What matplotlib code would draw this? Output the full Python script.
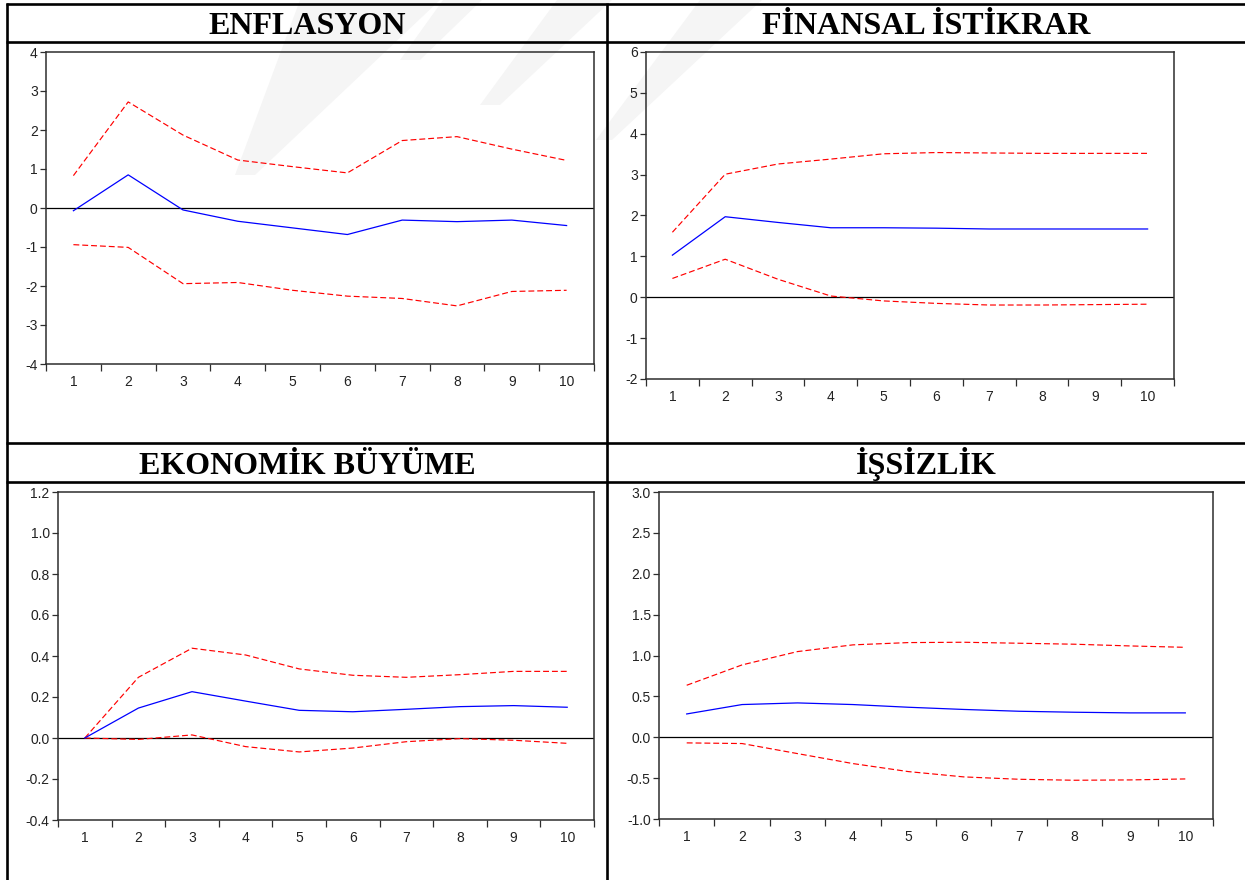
import matplotlib
matplotlib.use("Agg")
import matplotlib.pyplot as plt
from matplotlib.lines import Line2D
from matplotlib.patches import Polygon

# ---- data: impulse responses with confidence bands, periods 1..10 ----
periods = list(range(1, 11))

enf_resp = [-0.07, 0.85, -0.05, -0.34, -0.51, -0.68, -0.31, -0.35, -0.31, -0.45]
enf_upper = [0.83, 2.72, 1.87, 1.23, 1.06, 0.90, 1.73, 1.83, 1.51, 1.22]
enf_lower = [-0.94, -1.01, -1.94, -1.91, -2.11, -2.26, -2.32, -2.51, -2.14, -2.11]

fin_resp = [1.03, 1.97, 1.83, 1.70, 1.70, 1.69, 1.67, 1.67, 1.67, 1.67]
fin_upper = [1.59, 3.01, 3.26, 3.38, 3.51, 3.54, 3.53, 3.52, 3.52, 3.52]
fin_lower = [0.46, 0.93, 0.44, 0.03, -0.09, -0.15, -0.19, -0.19, -0.18, -0.17]

eko_resp = [0.0, 0.146, 0.226, 0.18, 0.135, 0.128, 0.14, 0.153, 0.158, 0.15]
eko_upper = [0.0, 0.296, 0.438, 0.405, 0.337, 0.306, 0.296, 0.309, 0.325, 0.325]
eko_lower = [0.0, -0.007, 0.015, -0.042, -0.068, -0.049, -0.018, -0.003, -0.011, -0.026]

iss_resp = [0.285, 0.40, 0.42, 0.40, 0.367, 0.34, 0.318, 0.306, 0.298, 0.298]
iss_upper = [0.636, 0.885, 1.048, 1.13, 1.158, 1.162, 1.15, 1.138, 1.117, 1.10]
iss_lower = [-0.069, -0.077, -0.2, -0.322, -0.42, -0.485, -0.514, -0.526, -0.522, -0.51]

titles = ["ENFLASYON", "FİNANSAL İSTİKRAR", "EKONOMİK BÜYÜME", "İŞSİZLİK"]

enf_yticks = [-4, -3, -2, -1, 0, 1, 2, 3, 4]
enf_ylabels = ["-4", "-3", "-2", "-1", "0", "1", "2", "3", "4"]
fin_yticks = [-2, -1, 0, 1, 2, 3, 4, 5, 6]
fin_ylabels = ["-2", "-1", "0", "1", "2", "3", "4", "5", "6"]
eko_yticks = [-0.4, -0.2, 0.0, 0.2, 0.4, 0.6, 0.8, 1.0, 1.2]
eko_ylabels = ["-0.4", "-0.2", "0.0", "0.2", "0.4", "0.6", "0.8", "1.0", "1.2"]
iss_yticks = [-1.0, -0.5, 0.0, 0.5, 1.0, 1.5, 2.0, 2.5, 3.0]
iss_ylabels = ["-1.0", "-0.5", "0.0", "0.5", "1.0", "1.5", "2.0", "2.5", "3.0"]
xlabels = [str(p) for p in periods]

# ---- figure setup ----
W, H = 1245, 880
fig = plt.figure(figsize=(W / 100, H / 100), dpi=100)
fig.patch.set_facecolor("white")


def fx(x):
    return x / W


def fy(y):
    return 1 - y / H


def px_box(x0, y0, x1, y1):
    return [fx(x0), fy(y1), (x1 - x0) / W, (y1 - y0) / H]


# faint diagonal watermark stripes behind everything
stripes = [
    [(300, 0), (440, 0), (255, 175), (235, 175)],
    [(443, 0), (482, 0), (420, 60), (400, 60)],
    [(557, 0), (612, 0), (500, 105), (480, 105)],
    [(700, 0), (762, 0), (612, 140), (596, 140)],
]
for pts in stripes:
    fig.patches.append(Polygon([(fx(a), fy(b)) for a, b in pts], closed=True,
                               transform=fig.transFigure, facecolor="#f5f5f5",
                               edgecolor="none", zorder=-10))

# table grid lines
grid_lw = 1.9
table_lines = [
    ((6, 4), (W, 4)),
    ((6, 42), (W, 42)),
    ((6, 443), (W, 443)),
    ((6, 482), (W, 482)),
    ((7, 3), (7, H)),
    ((607, 3), (607, H)),
]
for (x0, y0), (x1, y1) in table_lines:
    fig.add_artist(Line2D([fx(x0), fx(x1)], [fy(y0), fy(y1)], transform=fig.transFigure,
                          color="black", lw=grid_lw, solid_capstyle="butt"))

# titles
title_pos = [(307, 34), (926, 34), (307, 474), (926, 474)]
for t, (x, y) in zip(titles, title_pos):
    fig.text(fx(x), fy(y), t, ha="center", va="baseline", fontsize=23,
             fontweight="bold", family="Liberation Serif", color="black")

panels = [
    (px_box(46, 52, 594, 364), enf_resp, enf_upper, enf_lower, enf_yticks, enf_ylabels),
    (px_box(646, 52, 1174, 379), fin_resp, fin_upper, fin_lower, fin_yticks, fin_ylabels),
    (px_box(58, 492, 594, 820), eko_resp, eko_upper, eko_lower, eko_yticks, eko_ylabels),
    (px_box(659, 492, 1213, 819), iss_resp, iss_upper, iss_lower, iss_yticks, iss_ylabels),
]

frame_col = "#2e2e2e"
for box, resp, up, lo, yt, yl in panels:
    ax = fig.add_axes(box)
    ax.patch.set_alpha(0)
    ax.plot(periods, up, color="#ff0000", lw=0.85, linestyle=(0, (5, 2.5)))
    ax.plot(periods, lo, color="#ff0000", lw=0.85, linestyle=(0, (5, 2.5)))
    ax.plot(periods, resp, color="#0000ff", lw=0.9)
    ax.axhline(0, color="black", lw=0.9, zorder=1)
    ax.set_xlim(0.5, 10.5)
    ax.set_ylim(yt[0], yt[-1])
    ax.set_yticks(yt)
    ax.set_yticklabels(yl)
    ax.set_xticks(periods)
    ax.set_xticklabels(xlabels)
    ax.set_xticks([p + 0.5 for p in [0] + periods], minor=True)
    for sp in ax.spines.values():
        sp.set_color(frame_col)
        sp.set_linewidth(1.1)
    ax.tick_params(axis="y", which="major", direction="out", length=4, width=0.9,
                   color=frame_col, labelsize=10, labelcolor="#222222", pad=2)
    ax.tick_params(axis="x", which="major", length=0, labelsize=10,
                   labelcolor="#222222", pad=8)
    ax.tick_params(axis="x", which="minor", direction="out", length=5, width=0.9,
                   color=frame_col)
    for lab in ax.get_xticklabels() + ax.get_yticklabels():
        lab.set_family("Liberation Sans")

fig.savefig("out.png", dpi=100)
